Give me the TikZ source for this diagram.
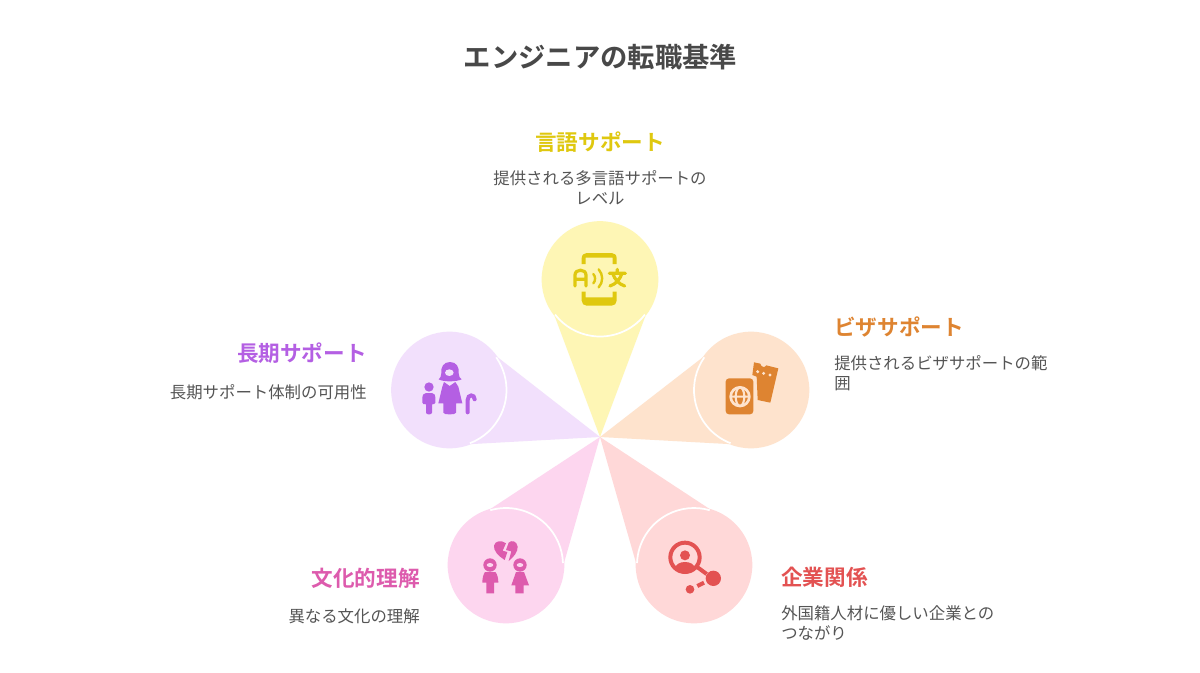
\documentclass[tikz,border=0pt]{standalone}
\usepackage{fontspec}
\setmainfont{Noto Sans CJK JP}
\newfontfamily\cjkb{Noto Sans CJK JP Bold}
\usetikzlibrary{calc}
\definecolor{ttl}{HTML}{484848}
\definecolor{bodytxt}{HTML}{555555}
\definecolor{ybg}{HTML}{FEF6B5}\definecolor{yfg}{HTML}{DFC80F}
\definecolor{obg}{HTML}{FEE3CD}\definecolor{ofg}{HTML}{DE8431}
\definecolor{pbg}{HTML}{F2E0FC}\definecolor{pfg}{HTML}{B45FE3}
\definecolor{kbg}{HTML}{FDD6EF}\definecolor{kfg}{HTML}{DD5BAD}
\definecolor{rbg}{HTML}{FFD8D8}\definecolor{rfg}{HTML}{E35252}
\newcommand{\petal}[3]{% name, colour, arc-mid angle
  \fill[#2] (apex) -- ($(#1)+(#3-52:58)$) -- ($(#1)+(#3+52:58)$) -- cycle;
  \node[disc,fill=#2] at (#1) {};
  \draw[white,line width=1.3pt] ($(#1)+(#3-52:57)$) arc[start angle=#3-52,end angle=#3+52,radius=57];
}
\tikzset{
  x=0.75pt,y=-0.75pt,
  disc/.style={circle,minimum size=87.5pt,inner sep=0pt,outer sep=0pt},
  titletxt/.style={font=\cjkb\fontsize{20.5}{24}\selectfont,text=ttl,inner sep=0pt},
  headtxt/.style={font=\cjkb\fontsize{16.2}{20}\selectfont,inner sep=0pt},
  bodyl/.style={font=\fontsize{12.3}{15}\selectfont,text=bodytxt,inner sep=0pt,align=left},
  bodyr/.style={font=\fontsize{12.3}{15}\selectfont,text=bodytxt,inner sep=0pt,align=right},
  bodyc/.style={font=\fontsize{12.3}{15}\selectfont,text=bodytxt,inner sep=0pt,align=center},
}
\begin{document}
\begin{tikzpicture}
\useasboundingbox (0,0) rectangle (1200,672);
\fill[white] (0,0) rectangle (1200,672);
\coordinate (apex) at (600,437);
\node[titletxt] (title) at (600.5,57) {エンジニアの転職基準};

\node[disc] (yc) at (600,279.5) {};
\node[disc] (oc) at (751,390) {};
\node[disc] (pc) at (449.5,390) {};
\node[disc] (kc) at (506,565) {};
\node[disc] (rc) at (694,565) {};
\petal{yc}{ybg}{90}
\petal{oc}{obg}{163}
\petal{pc}{pbg}{17}
\petal{kc}{kbg}{-54}
\petal{rc}{rbg}{-126}

% yellow icon
\begin{scope}[shift={(520,210)},scale=1/3]
\fill[yfg] (185,162) -- (185,145) .. controls (185,135) and (192,129) .. (200,129) -- (275,129) .. controls (284,129) and (290,135) .. (290,145) -- (290,162) -- (278,162) -- (278,143) -- (197,143) -- (197,162) -- cycle;
\fill[yfg] (185,245) -- (197,245) -- (197,262) -- (278,262) -- (278,245) -- (290,245) -- (290,272) .. controls (290,281) and (283,287) .. (275,287) -- (200,287) .. controls (192,287) and (185,281) .. (185,272) -- cycle;
\draw[yfg,line width=2.4pt,line cap=round,line join=round] (165,228) -- (165,195) .. controls (165,176) and (198,176) .. (198,195) -- (198,228) (165,208) -- (198,208);
\draw[yfg,line width=1.8pt,line cap=round] (220,192) .. controls (227,200) and (227,212) .. (220,220);
\draw[yfg,line width=1.8pt,line cap=round] (236,178) .. controls (250,194) and (250,216) .. (236,232);
\draw[yfg,line width=2.4pt,line cap=round,line join=round] (292,178) -- (292,188) (268,190) -- (316,190) (306,190) .. controls (300,208) and (288,222) .. (270,228) (278,190) .. controls (284,208) and (296,222) .. (314,228);
\end{scope}

% purple icon
\begin{scope}[shift={(380,320)},scale=1/3]
\fill[pfg] (210,126) .. controls (190,126) and (182,142) .. (184,160) .. controls (184,170) and (180,174) .. (176,178) .. controls (190,186) and (228,186) .. (245,178) .. controls (240,174) and (236,170) .. (236,160) .. controls (238,142) and (230,126) .. (210,126) -- cycle;
\fill[pbg] (208,158) ellipse[x radius=13,y radius=10];
\fill[pfg] (192,186) -- (209,198) -- (226,186) -- (235,200) -- (247,250) -- (228,250) -- (228,278) .. controls (228,285) and (190,285) .. (190,278) -- (190,250) -- (175,250) -- (187,200) -- cycle;
\fill[pfg] (147,201) circle[radius=14];
\fill[pfg] (138,219) -- (156,219) .. controls (164,220) and (166,226) .. (166,232) -- (166,248) .. controls (166,252) and (160,253) .. (156,253) -- (156,278) .. controls (156,285) and (138,285) .. (138,278) -- (138,253) .. controls (132,253) and (127,252) .. (127,248) -- (127,232) .. controls (127,226) and (130,220) .. (138,219) -- cycle;
\draw[pfg,line width=3pt,line cap=round] (263,277) -- (263,240) .. controls (263,222) and (284,222) .. (284,238);
\end{scope}

% orange icon
\begin{scope}[shift={(590,320)},scale=1/3]
\fill[ofg] (492,127) -- (511,131) .. controls (513,142) and (525,144) .. (529,136) -- (565,145) -- (541,248) -- (503,240) -- (500,170) -- (487,165) -- cycle;
\fill[obg,rounded corners=3pt] (400,168) rectangle (497,290);
\fill[ofg,rounded corners=2.5pt] (407,175) rectangle (490,283);
\draw[obg,line width=2pt] (450,230) circle[radius=28];
\draw[obg,line width=1.6pt] (450,230) ellipse[x radius=13,y radius=28] (422,230) -- (478,230);
\fill[obg] (503,155) circle[radius=5] (521,160) circle[radius=5] (540,165) circle[radius=5];
\end{scope}

% pink icon
\begin{scope}[shift={(430,430)},scale=1/3]
\fill[kfg] (224,390) .. controls (205,378) and (190,362) .. (192,347) .. controls (194,333) and (214,329) .. (228,340) -- (218,362) -- (232,366) -- cycle;
\fill[kfg] (236,393) .. controls (250,382) and (264,366) .. (263,350) .. controls (261,333) and (244,329) .. (236,338) -- (228,360) -- (244,364) -- cycle;
\foreach \hx in {180,270}{
  \fill[kfg] (\hx,405) circle[radius=20];
  \fill[kbg] (\hx,405) ellipse[x radius=10,y radius=6];
}
\fill[kfg] (165,426) -- (196,426) .. controls (202,432) and (205,445) .. (205,458) -- (192,458) -- (192,490) -- (169,490) -- (169,458) -- (157,458) .. controls (157,445) and (160,432) .. (165,426) -- cycle;
\fill[kfg] (258,426) -- (282,426) -- (297,466) -- (281,466) -- (281,490) -- (256,490) -- (256,466) -- (244,466) -- cycle;
\end{scope}

% red icon
\begin{scope}[shift={(590,430)},scale=1/3]
\draw[rfg,line width=3pt] (285,382) circle[radius=44];
\fill[rfg] (285,376) circle[radius=15];
\fill[rfg] (255,417) .. controls (257,402) and (270,396) .. (285,396) .. controls (300,396) and (313,402) .. (316,417) .. controls (300,432) and (270,432) .. (255,417) -- cycle;
\draw[rfg,line width=3pt] (320,410) -- (350,432);
\fill[rfg] (370,445) circle[radius=23];
\draw[rfg,line width=3pt] (322,468) -- (342,458);
\fill[rfg] (300,478) circle[radius=13];
\end{scope}

\node[headtxt,text=yfg] (yh) at (600,142) {言語サポート};
\node[bodyc] (yb) at (600,188) {提供される多言語サポートの\\レベル};
\node[headtxt,text=ofg,anchor=west] (oh) at (834,327) {ビザサポート};
\node[bodyl,anchor=west] (ob) at (834,373) {提供されるビザサポートの範\\囲};
\node[headtxt,text=pfg,anchor=east] (ph) at (367,353) {長期サポート};
\node[bodyr,anchor=east] (pb) at (367,392.5) {長期サポート体制の可用性};
\node[headtxt,text=kfg,anchor=east] (kh) at (420,578) {文化的理解};
\node[bodyr,anchor=east] (kb) at (420,616.5) {異なる文化の理解};
\node[headtxt,text=rfg,anchor=west] (rh) at (781,577) {企業関係};
\node[bodyl,anchor=west] (rb) at (781,623) {外国籍人材に優しい企業との\\つながり};
\end{tikzpicture}
\end{document}
